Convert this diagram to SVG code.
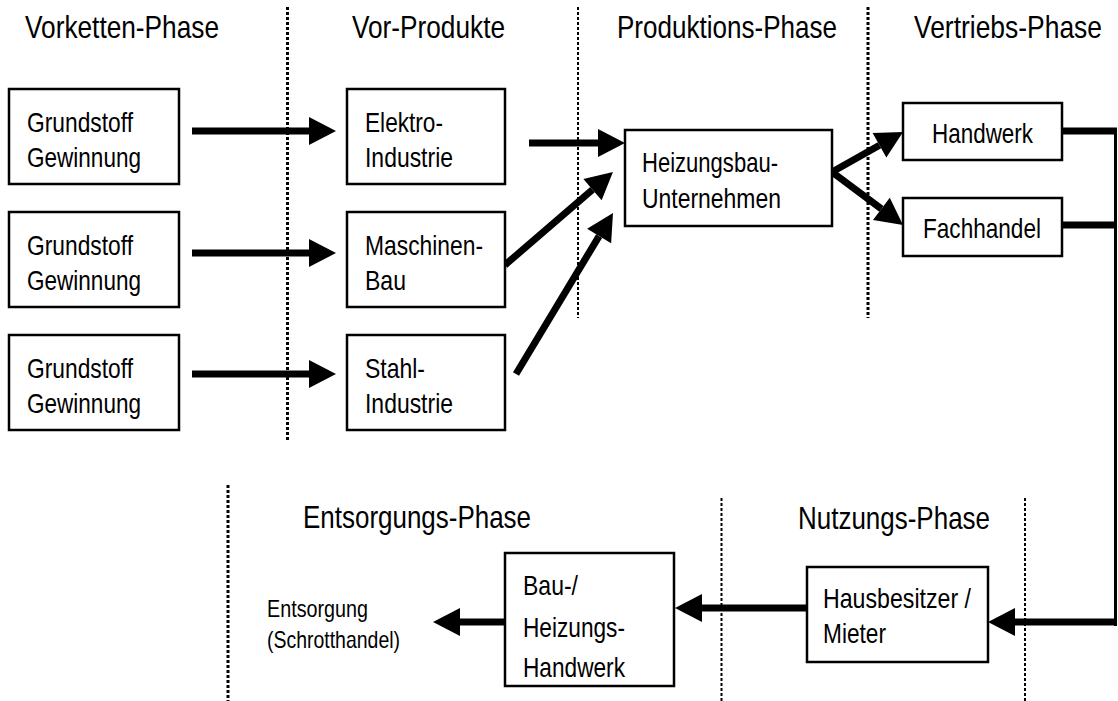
<svg xmlns="http://www.w3.org/2000/svg" width="1118" height="701" viewBox="0 0 1118 701">
  <style>
    text { font-family: "Liberation Sans", Arial, sans-serif; fill: #000; }
    .phase { font-size: 32px; }
    .lbl { font-size: 28px; }
    .small { font-size: 24px; }
    .box { fill: #fff; stroke: #000; stroke-width: 2.5; }
    .sep { fill: none; stroke: #000; stroke-width: 3; stroke-dasharray: 3 2; }
    .sep.thin { stroke-width: 2; }
    .flow { fill: none; stroke: #000; stroke-width: 7; }
    .flow.head { marker-end: url(#ah); }
    .ret { fill: none; stroke: #000; stroke-width: 3; }
  </style>
  <defs>
    <marker id="ah" markerUnits="userSpaceOnUse" viewBox="0 -15 28 30" markerWidth="28" markerHeight="30" refX="0" refY="0" orient="auto" overflow="visible">
      <path d="M0,-14 L27,0 L0,14 z" fill="#000"/>
    </marker>
  </defs>

  <rect width="1118" height="701" fill="#fff"/>

  <!-- phase separators -->
  <g id="separators">
    <line class="sep" x1="287.5" y1="7" x2="287.5" y2="442"/>
    <line class="sep thin" x1="578" y1="7" x2="578" y2="318"/>
    <line class="sep" x1="868" y1="7" x2="868" y2="318"/>
    <line class="sep" x1="228" y1="485" x2="228" y2="701"/>
    <line class="sep thin" x1="721.5" y1="498" x2="721.5" y2="701"/>
    <line class="sep thin" x1="1025" y1="498" x2="1025" y2="701"/>
  </g>

  <!-- phase headings -->
  <g id="phases">
    <text class="phase" x="25" y="38" textLength="194" lengthAdjust="spacingAndGlyphs">Vorketten-Phase</text>
    <text class="phase" x="352" y="38" textLength="153" lengthAdjust="spacingAndGlyphs">Vor-Produkte</text>
    <text class="phase" x="617" y="38" textLength="220" lengthAdjust="spacingAndGlyphs">Produktions-Phase</text>
    <text class="phase" x="1102" y="38" text-anchor="end" textLength="188" lengthAdjust="spacingAndGlyphs">Vertriebs-Phase</text>
    <text class="phase" x="303" y="528" textLength="228" lengthAdjust="spacingAndGlyphs">Entsorgungs-Phase</text>
    <text class="phase" x="798" y="529" textLength="192" lengthAdjust="spacingAndGlyphs">Nutzungs-Phase</text>
  </g>

  <!-- connectors -->
  <g id="connectors">
    <path class="flow head" d="M192,131 H309"/>
    <path class="flow head" d="M192,253 H309"/>
    <path class="flow head" d="M192,374 H309"/>
    <path class="flow head" d="M529,143 H598"/>
    <path class="flow head" d="M505,265 L592.5,189.6"/>
    <path class="flow head" d="M516,374 L599.1,236.1"/>
    <path class="flow head" d="M832,172 L879.5,145.3"/>
    <path class="flow head" d="M832,172 L881.4,208.9"/>
    <path class="flow" d="M1062,131 H1117"/>
    <path class="flow" d="M1062,225 H1117"/>
    <path class="ret" d="M1115.5,128 V626"/>
    <path class="flow head" d="M1117,622 H1015"/>
    <path class="flow head" d="M807,608 H702"/>
    <path class="flow head" d="M505,622 H460"/>
  </g>

  <!-- raw material extraction -->
  <g id="grundstoff-1">
    <rect class="box" x="9" y="89" width="170" height="95"/>
    <text class="lbl" x="27" y="132" textLength="106" lengthAdjust="spacingAndGlyphs">Grundstoff</text>
    <text class="lbl" x="27" y="167" textLength="114" lengthAdjust="spacingAndGlyphs">Gewinnung</text>
  </g>
  <g id="grundstoff-2">
    <rect class="box" x="9" y="212" width="170" height="95"/>
    <text class="lbl" x="27" y="255" textLength="106" lengthAdjust="spacingAndGlyphs">Grundstoff</text>
    <text class="lbl" x="27" y="290" textLength="114" lengthAdjust="spacingAndGlyphs">Gewinnung</text>
  </g>
  <g id="grundstoff-3">
    <rect class="box" x="9" y="335" width="170" height="95"/>
    <text class="lbl" x="27" y="378" textLength="106" lengthAdjust="spacingAndGlyphs">Grundstoff</text>
    <text class="lbl" x="27" y="413" textLength="114" lengthAdjust="spacingAndGlyphs">Gewinnung</text>
  </g>

  <!-- intermediate products -->
  <g id="elektro">
    <rect class="box" x="347" y="89" width="158" height="95"/>
    <text class="lbl" x="365" y="132" textLength="78" lengthAdjust="spacingAndGlyphs">Elektro-</text>
    <text class="lbl" x="365" y="167" textLength="88" lengthAdjust="spacingAndGlyphs">Industrie</text>
  </g>
  <g id="maschinenbau">
    <rect class="box" x="347" y="212" width="158" height="95"/>
    <text class="lbl" x="365" y="255" textLength="118" lengthAdjust="spacingAndGlyphs">Maschinen-</text>
    <text class="lbl" x="365" y="290" textLength="41" lengthAdjust="spacingAndGlyphs">Bau</text>
  </g>
  <g id="stahl">
    <rect class="box" x="347" y="335" width="158" height="95"/>
    <text class="lbl" x="365" y="378" textLength="60" lengthAdjust="spacingAndGlyphs">Stahl-</text>
    <text class="lbl" x="365" y="413" textLength="88" lengthAdjust="spacingAndGlyphs">Industrie</text>
  </g>

  <!-- production -->
  <g id="heizungsbau">
    <rect class="box" x="625" y="130" width="207" height="96"/>
    <text class="lbl" x="642" y="172" textLength="136" lengthAdjust="spacingAndGlyphs">Heizungsbau-</text>
    <text class="lbl" x="642" y="208" textLength="139" lengthAdjust="spacingAndGlyphs">Unternehmen</text>
  </g>

  <!-- distribution -->
  <g id="handwerk">
    <rect class="box" x="903" y="103" width="159" height="57"/>
    <text class="lbl" x="932" y="143" textLength="101" lengthAdjust="spacingAndGlyphs">Handwerk</text>
  </g>
  <g id="fachhandel">
    <rect class="box" x="903" y="198" width="159" height="58"/>
    <text class="lbl" x="923" y="238" textLength="118" lengthAdjust="spacingAndGlyphs">Fachhandel</text>
  </g>

  <!-- use -->
  <g id="hausbesitzer">
    <rect class="box" x="807" y="567" width="181" height="95"/>
    <text class="lbl" x="823" y="608" textLength="148" lengthAdjust="spacingAndGlyphs">Hausbesitzer /</text>
    <text class="lbl" x="823" y="643" textLength="63" lengthAdjust="spacingAndGlyphs">Mieter</text>
  </g>

  <!-- disposal -->
  <g id="bau-handwerk">
    <rect class="box" x="505" y="553" width="169" height="133"/>
    <text class="lbl" x="523" y="595" textLength="55" lengthAdjust="spacingAndGlyphs">Bau-/</text>
    <text class="lbl" x="523" y="637" textLength="102" lengthAdjust="spacingAndGlyphs">Heizungs-</text>
    <text class="lbl" x="523" y="677" textLength="102" lengthAdjust="spacingAndGlyphs">Handwerk</text>
  </g>
  <g id="entsorgung">
    <text class="small" x="267" y="617" textLength="101" lengthAdjust="spacingAndGlyphs">Entsorgung</text>
    <text class="small" x="267" y="648" textLength="133" lengthAdjust="spacingAndGlyphs">(Schrotthandel)</text>
  </g>
</svg>
